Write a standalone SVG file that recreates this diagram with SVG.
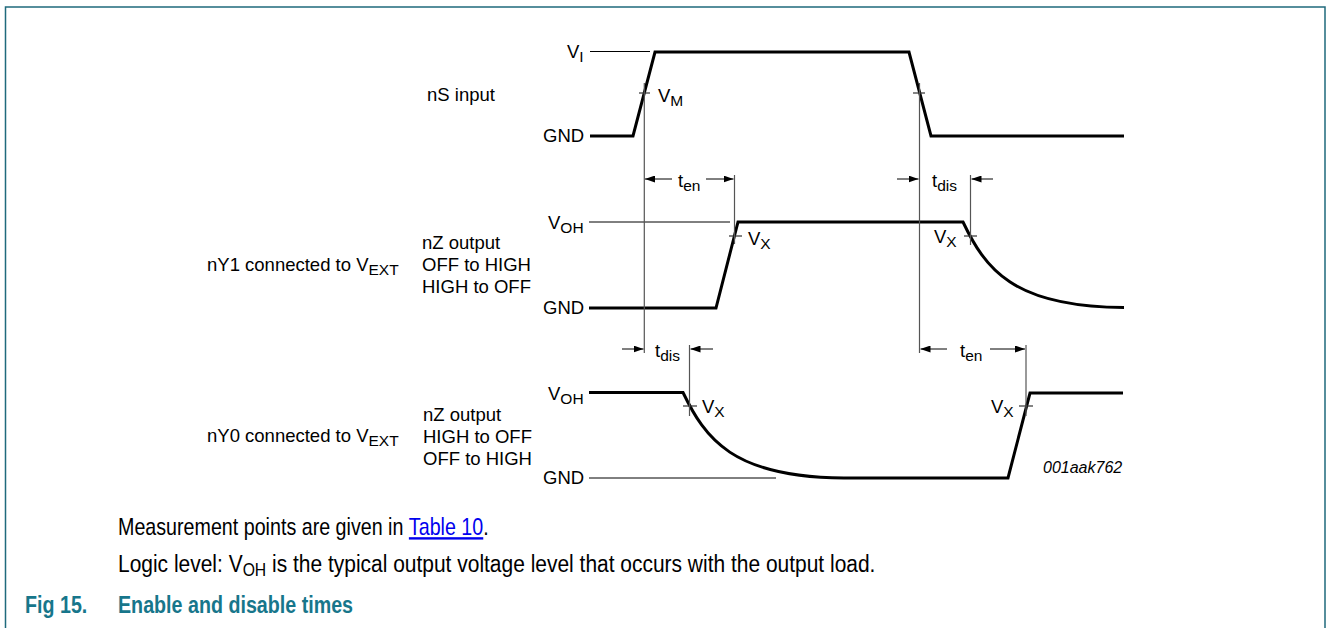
<svg xmlns="http://www.w3.org/2000/svg" width="1330" height="628" viewBox="0 0 1330 628">
<style>
.lbl{font-family:"Liberation Sans",Arial,sans-serif;font-size:18.5px;fill:#000}
.sub{font-size:15.5px}
.code{font-family:"Liberation Sans",Arial,sans-serif;font-size:16px;font-style:italic;fill:#000}
.wave{fill:none;stroke:#000;stroke-width:3;stroke-linejoin:miter}
.ref{fill:none;stroke:#000;stroke-width:1}
.mark{fill:none;stroke:#555;stroke-width:1.2}
.dim{fill:none;stroke:#000;stroke-width:1}
.tick{fill:none;stroke:#333;stroke-width:1.2}
.foot{font-family:"Liberation Sans",Arial,sans-serif;font-size:24px;fill:#000}
.title{font-family:"Liberation Sans",Arial,sans-serif;font-size:24px;font-weight:bold;fill:#17768b}
</style>
<defs>
<marker id="ah" viewBox="0 0 10 7" refX="10" refY="3.5" markerWidth="10" markerHeight="7" markerUnits="userSpaceOnUse" orient="auto">
<path d="M0,0 L10,3.5 L0,7 z" fill="#000"/>
</marker>
</defs>
<g id="frame">
<path d="M5.5,628 V7 H1325 V628" fill="none" stroke="#1f6a7c" stroke-width="1.5"/>
</g>
<g id="ns-input">
<text class="lbl" x="427" y="101">nS input</text>
<text class="lbl" x="567" y="58">V<tspan class="sub" dy="4">I</tspan></text>
<text class="lbl" x="543" y="142">GND</text>
<line class="ref" x1="590" y1="51.5" x2="650" y2="51.5"/>
<path class="wave" d="M590,136 H633 L655,52 H909 L931,136 H1124"/>
<line class="tick" x1="639" y1="93" x2="650" y2="93"/>
<line class="tick" x1="913" y1="93" x2="925" y2="93"/>
<text class="lbl" x="658" y="102">V<tspan class="sub" dy="4">M</tspan></text>
</g>
<g id="ny1-output">
<text class="lbl" x="207" y="271">nY1 connected to V<tspan class="sub" dy="4">EXT</tspan></text>
<text class="lbl" x="422" y="249">nZ output</text>
<text class="lbl" x="422" y="271">OFF to HIGH</text>
<text class="lbl" x="422" y="293">HIGH to OFF</text>
<text class="lbl" x="548" y="229">V<tspan class="sub" dy="4">OH</tspan></text>
<text class="lbl" x="543" y="314">GND</text>
<line class="ref" x1="589" y1="222" x2="730" y2="222"/>
<path class="wave" d="M589,308 H716 L738,222 H963 C985,268 1012,307 1124,307.5"/>
<line class="tick" x1="729" y1="236" x2="742" y2="236"/>
<text class="lbl" x="748" y="245">V<tspan class="sub" dy="4">X</tspan></text>
<line class="tick" x1="964" y1="236" x2="977" y2="236"/>
<text class="lbl" x="934" y="243">V<tspan class="sub" dy="4">X</tspan></text>
</g>
<g id="ny0-output">
<text class="lbl" x="207" y="442">nY0 connected to V<tspan class="sub" dy="4">EXT</tspan></text>
<text class="lbl" x="423" y="421">nZ output</text>
<text class="lbl" x="423" y="443">HIGH to OFF</text>
<text class="lbl" x="423" y="465">OFF to HIGH</text>
<text class="lbl" x="548" y="400">V<tspan class="sub" dy="4">OH</tspan></text>
<text class="lbl" x="543" y="484">GND</text>
<line class="ref" x1="589" y1="478" x2="776" y2="478"/>
<path class="wave" d="M589,392.5 H683 C705,438 732,477.5 844,478 H1008 L1030,393 H1123"/>
<line class="tick" x1="683" y1="406" x2="697" y2="406"/>
<text class="lbl" x="702" y="413">V<tspan class="sub" dy="4">X</tspan></text>
<line class="tick" x1="1019" y1="406" x2="1033" y2="406"/>
<text class="lbl" x="991" y="413">V<tspan class="sub" dy="4">X</tspan></text>
<text class="code" x="1043" y="473">001aak762</text>
</g>
<g id="connectors">
<line class="mark" x1="644.3" y1="83" x2="644.3" y2="353"/>
<line class="mark" x1="919.5" y1="83" x2="919.5" y2="353"/>
<line class="mark" x1="734.5" y1="175" x2="734.5" y2="244"/>
<line class="mark" x1="970.5" y1="175" x2="970.5" y2="245"/>
<line class="mark" x1="689.5" y1="345" x2="689.5" y2="416"/>
<line class="mark" x1="1026" y1="345" x2="1026" y2="416"/>
<line class="dim" x1="672" y1="179" x2="645" y2="179" marker-end="url(#ah)"/>
<line class="dim" x1="706" y1="179" x2="733.5" y2="179" marker-end="url(#ah)"/>
<text class="lbl" x="678" y="187">t<tspan class="sub" dy="4">en</tspan></text>
<line class="dim" x1="897" y1="179" x2="918.5" y2="179" marker-end="url(#ah)"/>
<line class="dim" x1="993" y1="179" x2="971.5" y2="179" marker-end="url(#ah)"/>
<text class="lbl" x="932" y="187">t<tspan class="sub" dy="4">dis</tspan></text>
<line class="dim" x1="622" y1="349" x2="643.5" y2="349" marker-end="url(#ah)"/>
<line class="dim" x1="713" y1="349" x2="690.5" y2="349" marker-end="url(#ah)"/>
<text class="lbl" x="655" y="357">t<tspan class="sub" dy="4">dis</tspan></text>
<line class="dim" x1="947" y1="349" x2="920.5" y2="349" marker-end="url(#ah)"/>
<line class="dim" x1="990" y1="349" x2="1025" y2="349" marker-end="url(#ah)"/>
<text class="lbl" x="960" y="357">t<tspan class="sub" dy="4">en</tspan></text>
</g>
<g id="notes">
<text class="foot" transform="translate(118,535) scale(0.82,1)">Measurement points are given in <tspan fill="#0000ee" text-decoration="underline">Table 10</tspan>.</text>
<text class="foot" transform="translate(118,572) scale(0.874,1)">Logic level: V<tspan font-size="18" dy="4">OH</tspan><tspan dy="-4"> is the typical output voltage level that occurs with the output load.</tspan></text>
<text class="title" transform="translate(25,613) scale(0.82,1)">Fig 15.</text>
<text class="title" transform="translate(118,613) scale(0.82,1)">Enable and disable times</text>
</g>
</svg>
